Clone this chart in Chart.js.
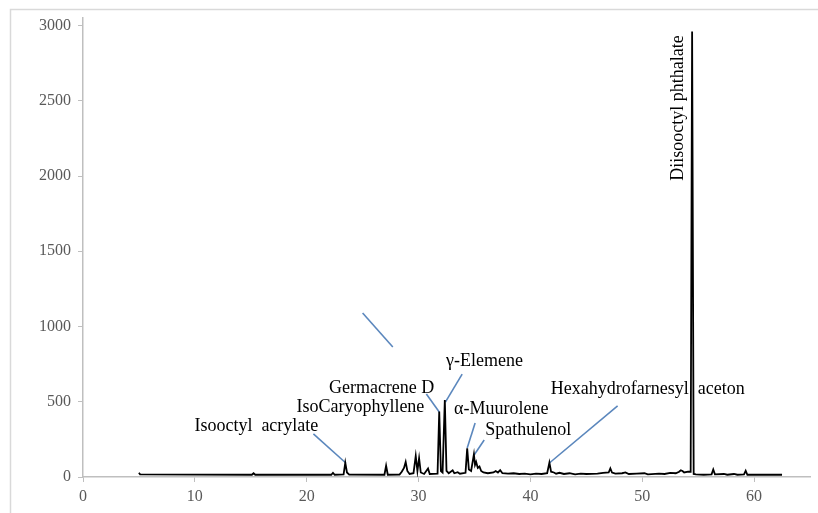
<!DOCTYPE html>
<html><head><meta charset="utf-8">
<script src="https://cdn.jsdelivr.net/npm/chart.js@4/dist/chart.umd.min.js"></script>
<style>html,body{margin:0;padding:0;background:#fff;overflow:hidden}#wrap{position:relative;width:818px;height:513px}</style>
</head><body><div id="wrap"><canvas id="c" width="818" height="513"></canvas></div>
<script>
// Retention time (min) and abundance
const retentionTime = [5.0,5.1,15.1,15.25,15.4,22.2,22.35,22.5,23.3,23.45,23.6,23.8,26.95,27.1,27.25,28.3,28.5,28.7,28.85,29.0,29.2,29.55,29.75,29.9,30.05,30.2,30.5,30.85,31.0,31.7,31.85,32.0,32.15,32.35,32.5,32.7,33.05,33.2,33.5,33.7,34.2,34.35,34.5,34.7,34.95,35.05,35.15,35.3,35.45,35.6,35.8,36.2,36.7,36.9,37.1,37.3,37.5,38.0,38.5,39.0,39.5,40.0,40.5,41.0,41.5,41.7,41.85,42.1,42.3,42.6,43.0,43.5,44.0,44.5,45.0,46.0,46.5,47.0,47.15,47.3,47.6,48.2,48.5,48.8,49.5,50.2,50.5,51.5,52.0,52.5,53.0,53.3,53.45,53.6,53.75,54.1,54.33,54.46,54.6,54.8,55.5,56.2,56.35,56.5,57.3,57.6,58.2,58.5,59.1,59.25,59.4,62.5];
const abundance = [28,18,15,25,15,15,28,15,18,95,30,16,15,75,15,16,35,60,100,40,20,25,140,40,125,30,20,57,20,22,435,40,30,512,40,25,45,25,32,22,28,190,50,40,150,80,100,60,70,40,30,25,30,40,30,45,25,22,25,20,22,18,22,20,25,95,35,30,22,28,20,25,18,22,20,22,28,30,57,30,22,25,30,20,22,25,18,22,20,28,25,35,45,40,30,35,35,2960,20,18,15,18,50,18,20,15,20,15,18,42,15,15];
const xTickValues = [0,10,20,30,40,50,60];
const yTickValues = [0,500,1000,1500,2000,2500,3000];

// Peak annotations (text, text anchor in data units, leader line in data units)
const peakNames = ['Isooctyl  acrylate','IsoCaryophyllene','Germacrene D','\u03b3-Elemene','\u03b1-Muurolene','Spathulenol','Hexahydrofarnesyl  aceton','Diisooctyl phthalate'];
const textRt  = [15.5,24.8,26.7,35.9,37.4,39.8,50.5,53.2];
const textVal = [339,465,591,771,452,312,585,2452];
const lineFromRt  = [20.6,25.0,30.7,33.9,35.06,35.87,47.8,null];
const lineFromVal = [286,1090,551,684,359,246,472,null];
const lineToRt    = [23.5,27.7,31.85,32.4,34.35,34.97,41.7,null];
const lineToVal   = [93,864,432,498,193,146,93,null];

const SERIF = "'Liberation Serif','Times New Roman',serif";
Chart.defaults.font.family = SERIF;

const annotPlugin = {
  id: 'annot',
  beforeDraw(chart) {
    const ctx = chart.ctx;
    ctx.save();
    ctx.fillStyle = '#fff';
    ctx.fillRect(0,0,chart.width,chart.height);
    ctx.strokeStyle = '#d9d9d9';
    ctx.lineWidth = 1.5;
    ctx.beginPath();
    ctx.moveTo(10.5, chart.height); ctx.lineTo(10.5, 9.5); ctx.lineTo(chart.width, 9.5);
    ctx.stroke();
    ctx.restore();
  },
  beforeDatasetsDraw(chart) {
    const ctx = chart.ctx, xs = chart.scales.x, ys = chart.scales.y;
    ctx.save();
    ctx.strokeStyle = '#5b87bd';
    ctx.lineWidth = 1.6;
    for (let i = 0; i < peakNames.length; i++) {
      if (lineFromRt[i] !== null) {
        ctx.beginPath();
        ctx.moveTo(xs.getPixelForValue(lineFromRt[i]), ys.getPixelForValue(lineFromVal[i]));
        ctx.lineTo(xs.getPixelForValue(lineToRt[i]), ys.getPixelForValue(lineToVal[i]));
        ctx.stroke();
      }
    }
    ctx.fillStyle = '#000';
    ctx.font = '18px ' + SERIF;
    ctx.textAlign = 'center';
    ctx.textBaseline = 'middle';
    for (let i = 0; i < peakNames.length; i++) {
      const px = xs.getPixelForValue(textRt[i]), py = ys.getPixelForValue(textVal[i]);
      if (i === peakNames.length - 1) {
        ctx.save(); ctx.translate(px, py); ctx.rotate(-Math.PI/2);
        ctx.fillText(peakNames[i], 0, 0); ctx.restore();
      } else {
        ctx.fillText(peakNames[i], px, py);
      }
    }
    ctx.restore();
  }
};

new Chart(document.getElementById('c'), {
  type: 'scatter',
  data: { datasets: [{
    data: retentionTime.map((t, i) => ({ x: t, y: abundance[i] })),
    showLine: true, borderColor: '#000', borderWidth: 1.8, pointRadius: 0, tension: 0, fill: false
  }]},
  options: {
    responsive: false, animation: false,
    layout: { padding: { top: 18, right: 8, left: 0, bottom: 0 } },
    plugins: { legend: { display: false }, tooltip: { enabled: false } },
    scales: {
      x: {
        type: 'linear', min: 0, max: 65,
        afterBuildTicks: s => { s.ticks = xTickValues.map(v => ({ value: v })); },
        afterFit: s => { s.height = 36; },
        grid: { drawOnChartArea: false, drawTicks: true, tickLength: 5, color: '#bfbfbf' },
        border: { color: '#bfbfbf', width: 1.5 },
        ticks: { color: '#595959', font: { size: 16, family: SERIF }, padding: 5, maxRotation: 0, callback: v => String(v) }
      },
      y: {
        type: 'linear', min: 0, max: 3050,
        afterBuildTicks: s => { s.ticks = yTickValues.map(v => ({ value: v })); },
        afterFit: s => { s.width = 83; },
        grid: { drawOnChartArea: false, drawTicks: true, tickLength: 5, color: '#bfbfbf' },
        border: { color: '#bfbfbf', width: 1.5 },
        ticks: { color: '#595959', font: { size: 16, family: SERIF }, padding: 7, callback: v => String(v) }
      }
    }
  },
  plugins: [annotPlugin]
});
</script>
</body></html>
